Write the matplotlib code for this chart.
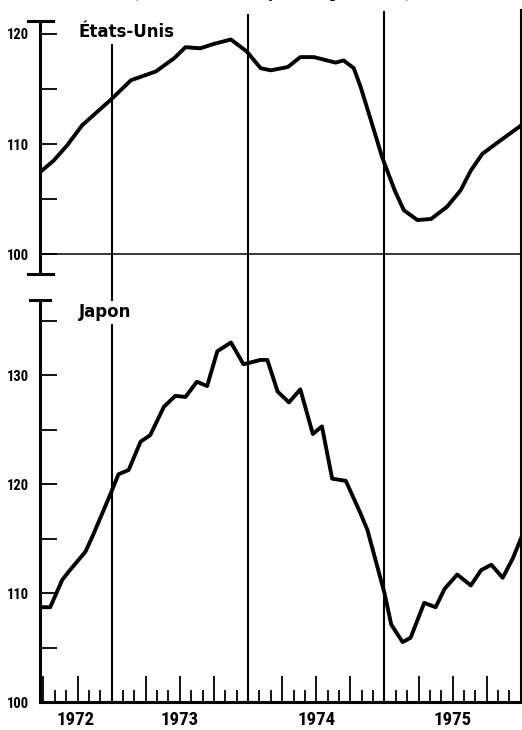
import matplotlib
matplotlib.use("Agg")
import matplotlib.pyplot as plt
import matplotlib.transforms as mtransforms
from matplotlib.ticker import FixedLocator

# months counted from January 1972 (12 = start of 1973, ...)
us_months = [5.76, 6.9, 8.1, 9.4, 10.7, 11.9, 13.7, 14.8, 15.9, 17.5, 18.5, 19.8,
             21.0, 22.5, 23.9, 25.1, 26.0, 27.5, 28.6, 29.8, 31.7, 32.4, 33.3,
             33.9, 34.8, 35.8, 36.9, 37.7, 38.9, 40.1, 41.5, 42.7, 43.6, 44.6,
             45.9, 47.9, 48.2]
us_index = [107.5, 108.5, 109.9, 111.7, 112.9, 114.0, 115.8, 116.2, 116.6, 117.8,
            118.8, 118.7, 119.1, 119.5, 118.4, 116.9, 116.7, 117.0, 117.9, 117.9,
            117.4, 117.6, 116.9, 115.2, 112.2, 108.8, 105.8, 104.0, 103.1, 103.2,
            104.3, 105.8, 107.6, 109.1, 110.1, 111.6, 111.9]

jp_months = [5.76, 6.6, 7.65, 8.25, 9.7, 10.4, 11.9, 12.6, 13.5, 14.55, 15.4, 16.6,
             17.6, 18.5, 19.5, 20.4, 21.3, 22.5, 23.6, 25.1, 25.7, 26.6, 27.6,
             28.6, 29.7, 30.5, 31.4, 32.6, 33.9, 34.5, 36.0, 36.6, 37.6, 38.3,
             39.5, 40.5, 41.3, 42.4, 43.6, 44.5, 45.4, 46.4, 47.3, 48.0]
jp_index = [108.7, 108.7, 111.2, 112.0, 113.8, 115.4, 119.1, 120.9, 121.3, 123.9,
            124.5, 127.1, 128.1, 128.0, 129.4, 129.0, 132.2, 133.0, 131.0, 131.4,
            131.4, 128.5, 127.5, 128.7, 124.6, 125.3, 120.5, 120.3, 117.3, 115.8,
            110.0, 107.1, 105.5, 105.9, 109.1, 108.7, 110.4, 111.7, 110.7, 112.1,
            112.6, 111.4, 113.2, 115.0]

year_breaks = [12, 24, 36, 48]
year_labels = ["1972", "1973", "1974", "1975"]
title = "(1970 = 100 ; moyennes glissantes)"

narrow = ["Roboto Condensed", "DejaVu Sans"]
XMIN, XMAX = 5.7, 48.1

fig = plt.figure(figsize=(5.22, 7.30), dpi=100)
W, H = 522.0, 730.0

ax1 = fig.add_axes([40 / W, (H - 274) / H, 482 / W, 253 / H])
ax2 = fig.add_axes([40 / W, 28 / H, 482 / W, 402 / H])

for ax in (ax1, ax2):
    ax.set_xlim(XMIN, XMAX)
    ax.patch.set_alpha(0)
    for s in ("top", "right"):
        ax.spines[s].set_visible(False)
    ax.spines["left"].set_linewidth(2.2)
    ax.tick_params(axis="y", which="both", direction="in", length=12, width=1.3,
                   pad=8, labelsize=10.5)

ax1.set_ylim(98.2, 121.18)
ax2.set_ylim(100, 136.9)

# top panel
ax1.spines["bottom"].set_visible(False)
ax1.set_xticks([])
ax1.yaxis.set_major_locator(FixedLocator([100, 110, 120]))
ax1.yaxis.set_minor_locator(FixedLocator([105, 115]))
ax1.axhline(100, color="black", lw=1.1)
ax1.plot(us_months, us_index, color="black", lw=2.8, solid_joinstyle="round")
ax1.text(0.079, 119.7, "États-Unis",
         transform=mtransforms.blended_transform_factory(ax1.transAxes, ax1.transData),
         fontsize=12, fontweight="bold", va="baseline", ha="left")

# bottom panel
ax2.spines["bottom"].set_linewidth(2.2)
ax2.yaxis.set_major_locator(FixedLocator([100, 110, 120, 130]))
ax2.yaxis.set_minor_locator(FixedLocator([105, 115, 125, 135]))
months = list(range(6, 48))
short = [m for m in months if m % 3 != 0]
tall = [m for m in months if m % 3 == 0 and m % 12 != 0]
ax2.set_xticks(tall)
ax2.set_xticks(short, minor=True)
ax2.tick_params(axis="x", which="major", direction="in", length=19, width=1.3,
                labelbottom=False)
ax2.tick_params(axis="x", which="minor", direction="in", length=9, width=1.3)
ax2.plot(jp_months, jp_index, color="black", lw=2.8, solid_joinstyle="round")
ax2.text(0.081, 135.3, "Japon",
         transform=mtransforms.blended_transform_factory(ax2.transAxes, ax2.transData),
         fontsize=12, fontweight="bold", va="baseline", ha="left", zorder=5,
         bbox=dict(facecolor="white", edgecolor="none", pad=2))

for ax in (ax1, ax2):
    for lab in ax.get_yticklabels():
        lab.set_family(narrow)
        lab.set_fontweight("bold")

# year labels, centred in the visible part of each year
bt = mtransforms.blended_transform_factory(ax2.transData, fig.transFigure)
starts = [XMIN] + year_breaks[:-1]
for s, e, lab in zip(starts, year_breaks, year_labels):
    ax2.text((s + e) / 2, 10 / H, lab, transform=bt, ha="center", va="center",
             fontsize=13.5, fontweight="bold", family=narrow)

# year separators running through both panels
tops = [685, 715, 718, 720]
for yb, top in zip(year_breaks, tops):
    ax2.plot([yb, yb], [28 / H, top / H], transform=bt, color="black", lw=1.5,
             clip_on=False, zorder=1)

# caps at the ends of the vertical axes
def cap(ax, y, x0=-12, x1=13):
    t = mtransforms.blended_transform_factory(ax.transAxes, ax.transAxes)
    ax.plot([x0 / 482, x1 / 482], [y, y], transform=t, color="black", lw=2.2,
            clip_on=False)

cap(ax1, 1.0)
cap(ax1, 0.0)
cap(ax2, 1.0, -10, 10)

# heading cut off at the top edge, as in the source
fig.text(272 / W, 1 + 2.5 / H, title, ha="center", va="baseline", fontsize=11)

fig.savefig("out.png", dpi=100)
